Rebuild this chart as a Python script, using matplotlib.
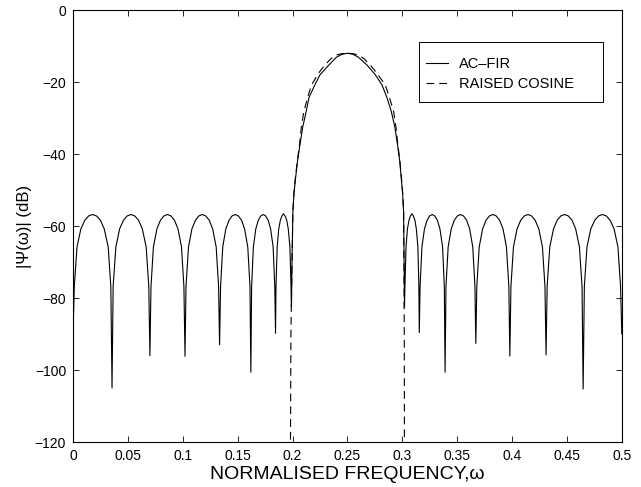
import numpy as np
import matplotlib
matplotlib.use('Agg')
import matplotlib.pyplot as plt
from matplotlib.patches import Rectangle

plt.rcParams['font.family'] = ['Liberation Sans', 'DejaVu Sans']

# AC-FIR response, side lobes left of the pass band
fir_left_f = [0.0000, 0.0011, 0.0036, 0.0071, 0.0107, 0.0142, 0.0178, 0.0213, 0.0249, 0.0284, 0.0320, 0.0344,
              0.0355, 0.0365, 0.0390, 0.0424, 0.0459, 0.0493, 0.0528, 0.0562, 0.0597, 0.0631, 0.0666, 0.0690,
              0.0700, 0.0710, 0.0732, 0.0764, 0.0796, 0.0828, 0.0860, 0.0892, 0.0924, 0.0956, 0.0988, 0.1010,
              0.1020, 0.1029, 0.1052, 0.1083, 0.1115, 0.1146, 0.1178, 0.1209, 0.1241, 0.1272, 0.1304, 0.1326,
              0.1335, 0.1344, 0.1364, 0.1392, 0.1421, 0.1449, 0.1478, 0.1506, 0.1535, 0.1563, 0.1592, 0.1612,
              0.1620, 0.1627, 0.1643, 0.1665, 0.1688, 0.1710, 0.1733, 0.1755, 0.1778, 0.1800, 0.1823, 0.1838,
              0.1845, 0.1849, 0.1860, 0.1874, 0.1889, 0.1903, 0.1918, 0.1932, 0.1947, 0.1961, 0.1976, 0.1986]
fir_left_db = [-90.0, -76.8, -65.8, -60.8, -58.4, -57.2, -56.8, -57.2, -58.4, -60.8, -65.8, -76.8,
               -105.0, -76.8, -65.8, -60.8, -58.4, -57.2, -56.8, -57.2, -58.4, -60.8, -65.8, -76.8,
               -96.0, -76.8, -65.8, -60.8, -58.4, -57.2, -56.8, -57.2, -58.4, -60.8, -65.8, -76.8,
               -96.2, -76.8, -65.8, -60.8, -58.4, -57.2, -56.8, -57.2, -58.4, -60.8, -65.8, -76.8,
               -93.0, -76.8, -65.8, -60.8, -58.4, -57.2, -56.8, -57.2, -58.4, -60.8, -65.8, -76.8,
               -100.6, -76.8, -65.8, -60.8, -58.4, -57.2, -56.8, -57.2, -58.4, -60.8, -65.8, -76.8,
               -89.8, -76.8, -65.8, -60.8, -58.4, -57.2, -56.6, -57.2, -58.4, -60.8, -65.8, -76.8]

# AC-FIR main lobe
fir_main_f = [0.1990, 0.1995, 0.2003, 0.2013, 0.2027, 0.2045, 0.2067, 0.2093, 0.2124, 0.2150,
              0.2203, 0.2250, 0.2330, 0.2400, 0.2450, 0.2500, 0.2550, 0.2600, 0.2679, 0.2755,
              0.2815, 0.2860, 0.2900, 0.2932, 0.2957, 0.2977, 0.2991, 0.3003, 0.3012, 0.3016, 0.3020]
fir_main_db = [-82.5, -70.0, -56.0, -51.0, -46.8, -42.0, -37.5, -32.5, -28.2, -24.3,
               -20.8, -18.0, -15.3, -13.1, -12.3, -12.0, -12.3, -13.1, -15.3, -18.0,
               -20.8, -24.3, -28.2, -32.5, -37.5, -42.0, -46.8, -51.0, -56.0, -70.0, -82.5]

# AC-FIR side lobes right of the pass band
fir_right_f = [0.3024, 0.3034, 0.3047, 0.3061, 0.3074, 0.3088, 0.3101, 0.3115, 0.3128, 0.3142, 0.3151,
               0.3155, 0.3162, 0.3179, 0.3202, 0.3226, 0.3249, 0.3273, 0.3296, 0.3320, 0.3343, 0.3367, 0.3383,
               0.3390, 0.3398, 0.3418, 0.3446, 0.3474, 0.3502, 0.3530, 0.3558, 0.3586, 0.3614, 0.3642, 0.3662,
               0.3670, 0.3679, 0.3701, 0.3732, 0.3763, 0.3794, 0.3825, 0.3856, 0.3887, 0.3918, 0.3949, 0.3971,
               0.3980, 0.3990, 0.4013, 0.4046, 0.4079, 0.4112, 0.4145, 0.4178, 0.4211, 0.4244, 0.4277, 0.4300,
               0.4310, 0.4320, 0.4344, 0.4378, 0.4411, 0.4445, 0.4479, 0.4513, 0.4547, 0.4580, 0.4614, 0.4638,
               0.4648, 0.4659, 0.4683, 0.4718, 0.4754, 0.4789, 0.4824, 0.4859, 0.4894, 0.4930, 0.4965, 0.4989,
               0.5000]
fir_right_db = [-76.8, -65.8, -60.8, -58.4, -57.2, -56.6, -57.2, -58.4, -60.8, -65.8, -76.8,
                -89.6, -76.8, -65.8, -60.8, -58.4, -57.2, -56.8, -57.2, -58.4, -60.8, -65.8, -76.8,
                -100.6, -76.8, -65.8, -60.8, -58.4, -57.2, -56.8, -57.2, -58.4, -60.8, -65.8, -76.8,
                -92.6, -76.8, -65.8, -60.8, -58.4, -57.2, -56.8, -57.2, -58.4, -60.8, -65.8, -76.8,
                -96.1, -76.8, -65.8, -60.8, -58.4, -57.2, -56.8, -57.2, -58.4, -60.8, -65.8, -76.8,
                -95.8, -76.8, -65.8, -60.8, -58.4, -57.2, -56.8, -57.2, -58.4, -60.8, -65.8, -76.8,
                -105.3, -76.8, -65.8, -60.8, -58.4, -57.2, -56.8, -57.2, -58.4, -60.8, -65.8, -76.8,
                -90.0]

# raised cosine reference (only the pass band is above -120 dB)
rc_f = [0.1980, 0.1985, 0.1995, 0.2003, 0.2012, 0.2025, 0.2043, 0.2063, 0.2080, 0.2103, 0.2140,
        0.2173, 0.2240, 0.2294, 0.2350, 0.2400, 0.2450, 0.2500, 0.2550, 0.2600, 0.2650, 0.2709,
        0.2765, 0.2845, 0.2880, 0.2921, 0.2942, 0.2960, 0.2978, 0.2993, 0.3004, 0.3012, 0.3015,
        0.3018, 0.3020]
rc_db = [-130.0, -90.0, -70.0, -56.0, -51.0, -46.8, -42.0, -37.5, -32.5, -28.2, -24.0,
         -20.8, -17.4, -15.3, -13.5, -12.5, -12.1, -12.0, -12.1, -12.5, -13.5, -15.3,
         -17.4, -20.8, -24.0, -28.2, -32.5, -37.5, -42.0, -46.8, -51.0, -56.0, -70.0,
         -90.0, -130.0]

x_ticks = [0, 0.05, 0.1, 0.15, 0.2, 0.25, 0.3, 0.35, 0.4, 0.45, 0.5]
x_labels = ['0', '0.05', '0.1', '0.15', '0.2', '0.25', '0.3', '0.35', '0.4', '0.45', '0.5']
y_ticks = [-120, -100, -80, -60, -40, -20, 0]

fir_f = np.concatenate([fir_left_f, fir_main_f, fir_right_f])
fir_db = np.concatenate([fir_left_db, fir_main_db, fir_right_db])

fig = plt.figure(figsize=(6.41, 4.87), dpi=100)
ax = fig.add_axes([0.114, 0.0924, 0.856, 0.887])

ax.plot(fir_f, fir_db, color='black', linewidth=0.8, label='AC\u2013FIR')
ax.plot(rc_f, rc_db, color='black', linewidth=0.8, linestyle='--', dashes=(7, 4.5), label='RAISED COSINE')

ax.set_xlim(0, 0.5)
ax.set_ylim(-120, 0)
ax.set_xticks(x_ticks)
ax.set_xticklabels(x_labels)
ax.set_yticks(y_ticks)
ax.tick_params(direction='in', length=4, width=0.6, top=True, right=True, labelsize=10, pad=5)
for s in ax.spines.values():
    s.set_linewidth(0.8)

ax.set_xlabel('NORMALISED FREQUENCY,\u03c9', fontsize=14, labelpad=2)
ax.set_ylabel('|\u03a8(\u03c9)| (dB)', fontsize=12, labelpad=2)

# matlab style legend box, wider on the right than the entries
ax.add_patch(Rectangle((0.6302, 0.787), 0.3352, 0.1389, transform=ax.transAxes,
                       facecolor='white', edgecolor='black', linewidth=0.7, zorder=4))
leg = ax.legend(loc='upper left', bbox_to_anchor=(0.643, 0.892), fontsize=10.5,
                handlelength=1.55, handletextpad=0.75, borderaxespad=0, borderpad=0,
                labelspacing=0.45, frameon=False)
leg.set_zorder(5)

fig.savefig('out.png', dpi=100)
